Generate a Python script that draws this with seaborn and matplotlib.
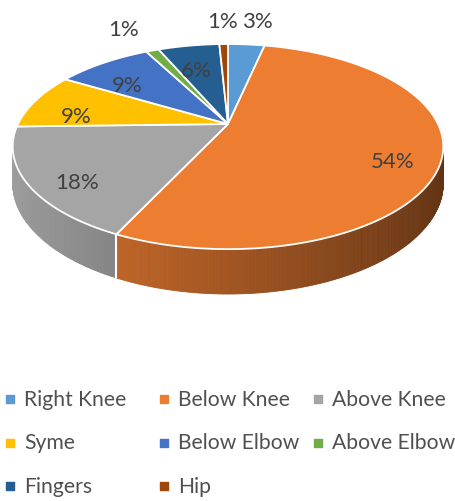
import numpy as np
import matplotlib
matplotlib.use("Agg")
import matplotlib.pyplot as plt
from matplotlib.patches import Polygon
from matplotlib.colors import to_rgb
import seaborn as sns

CATEGORIES = ['Right Knee', 'Below Knee', 'Above Knee', 'Syme',
              'Below Elbow', 'Above Elbow', 'Fingers', 'Hip']
SHARES = [3.4, 53.6, 17.6, 8.9, 8.8, 1.2, 5.7, 0.8]
COLORS = ['#5B9BD5', '#ED7D31', '#A5A5A5', '#FFC000',
          '#4472C4', '#70AD47', '#255E91', '#9E480E']

# tilted disc, drawn in pixel units
CX, CY = 228, 125
RX, RY = 210, 97.6
PERSP = 0.22
DEPTH = 35


def project(X, Z, drop=0.0):
    w = 1 + PERSP * Z
    return CX + RX * X / w, CY - RY * Z / w + drop / w


def shade(color, X):
    f = 0.685 - 0.285 * X
    return tuple(min(1, c * f) for c in to_rgb(color))


sns.set_style("white")
plt.rcParams['font.family'] = ['Lato', 'DejaVu Sans']

fig = plt.figure(figsize=(4.56, 5.02), dpi=100)
ax = fig.add_axes([0, 0, 1, 1])
ax.set_xlim(0, 456)
ax.set_ylim(502, 0)
ax.axis('off')

total = sum(SHARES)
cum = np.concatenate([[0], np.cumsum(SHARES)])
starts = np.deg2rad(90 - 360 * cum[:-1] / total)
ends = np.deg2rad(90 - 360 * cum[1:] / total)

# side wall (front half only)
for s, e, col in zip(starts, ends, COLORS):
    ts = np.linspace(e, s, max(2, int(np.degrees(s - e) * 2)))
    for t1, t2 in zip(ts[:-1], ts[1:]):
        tm = 0.5 * (t1 + t2)
        if np.sin(tm) >= 0:
            continue
        p1 = project(np.cos(t1), np.sin(t1))
        p2 = project(np.cos(t2), np.sin(t2))
        p3 = project(np.cos(t2), np.sin(t2), DEPTH)
        p4 = project(np.cos(t1), np.sin(t1), DEPTH)
        c = shade(col, np.cos(tm))
        ax.add_patch(Polygon([p1, p2, p3, p4], closed=True, facecolor=c,
                             edgecolor=c, lw=0.6, zorder=1))

# white seams on the side wall
for t in starts:
    if np.sin(t) < 0:
        x0, y0 = project(np.cos(t), np.sin(t))
        x1, y1 = project(np.cos(t), np.sin(t), DEPTH)
        ax.plot([x0, x1], [y0, y1], color='white', lw=1.5, zorder=2)

# top faces
for s, e, col in zip(starts, ends, COLORS):
    ts = np.linspace(s, e, max(3, int(np.degrees(s - e) * 2)))
    pts = [(CX, CY)] + [project(np.cos(t), np.sin(t)) for t in ts]
    ax.add_patch(Polygon(pts, closed=True, facecolor=col, edgecolor='white',
                         lw=1.3, joinstyle='round', zorder=3))

# percentage labels
for s, e, v in zip(starts, ends, SHARES):
    tm = 0.5 * (s + e)
    pct = 100 * v / total
    if pct < 5:
        x, y = project(1.38 * np.cos(tm), 1.38 * np.sin(tm))
        x += 6 * np.sign(np.cos(tm)) if abs(np.cos(tm)) > 0.05 else 0
    else:
        x, y = project(0.78 * np.cos(tm), 0.78 * np.sin(tm), 11)
    ax.text(x, y, f"{round(pct)}%", ha='center', va='center',
            fontsize=16, color='#404040', zorder=5)

# legend
for i, (name, col) in enumerate(zip(CATEGORIES, COLORS)):
    row, colno = divmod(i, 3)
    lx = 10 + colno * 154
    ly = 400 + row * 43.5
    ax.scatter([lx], [ly], marker='s', s=34, color=col, zorder=5)
    ax.text(lx + 14, ly, name, ha='left', va='center', fontsize=15.2,
            color='#505050')

fig.savefig('out.png', dpi=100)
